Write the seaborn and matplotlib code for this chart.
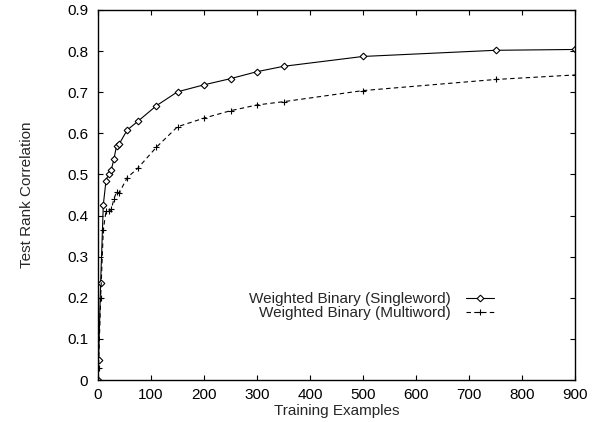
import numpy as np
import pandas as pd
import matplotlib
matplotlib.use("Agg")
import matplotlib.pyplot as plt
import seaborn as sns

# training set sizes and test rank correlation
single_x = [0, 1, 5, 10, 15, 20, 25, 30, 35, 40, 55, 75, 110, 150, 200, 250, 300, 350, 500, 750, 900]
single_y = [0.0, 0.048, 0.237, 0.426, 0.484, 0.502, 0.511, 0.537, 0.570, 0.574, 0.608, 0.629,
            0.667, 0.701, 0.718, 0.733, 0.750, 0.763, 0.787, 0.802, 0.804]

multi_x = [0, 1, 5, 10, 15, 20, 25, 30, 35, 40, 55, 75, 110, 150, 200, 250, 300, 350, 500, 750, 900]
multi_y = [0.0, 0.03, 0.20, 0.365, 0.41, 0.41, 0.415, 0.44, 0.458, 0.455, 0.492, 0.515,
           0.566, 0.616, 0.637, 0.655, 0.669, 0.677, 0.704, 0.731, 0.742]

x_ticks = [0, 100, 200, 300, 400, 500, 600, 700, 800, 900]
y_ticks = [0, 0.1, 0.2, 0.3, 0.4, 0.5, 0.6, 0.7, 0.8, 0.9]
y_ticklabels = ["0", "0.1", "0.2", "0.3", "0.4", "0.5", "0.6", "0.7", "0.8", "0.9"]

sns.set_style("ticks")
plt.rcParams["font.family"] = ["Liberation Sans", "DejaVu Sans"]
plt.rcParams["font.size"] = 11

fig = plt.figure(figsize=(5.99, 4.22), dpi=100)
ax = fig.add_axes([98 / 599, 42 / 422, 477 / 599, 370 / 422])

sns.lineplot(x=single_x, y=single_y, ax=ax, color="black", linewidth=0.8,
             marker="D", markersize=3.4, markerfacecolor="white", markeredgecolor="black",
             markeredgewidth=0.8, estimator=None, sort=False,
             label="Weighted Binary (Singleword)")
sns.lineplot(x=multi_x, y=multi_y, ax=ax, color="black", linewidth=0.8,
             linestyle=(0, (4, 3)), marker="+", markersize=5, markeredgewidth=0.8,
             markeredgecolor="black", estimator=None, sort=False,
             label="Weighted Binary (Multiword)")

ax.set_xlim(0, 900)
ax.set_ylim(0, 0.9)
ax.set_xticks(x_ticks)
ax.set_yticks(y_ticks)
ax.set_yticklabels(y_ticklabels)
ax.tick_params(direction="in", length=3.8, width=0.8, top=True, right=True, labelsize=11,
               colors="black", pad=6)
ax.tick_params(axis="y", pad=7)
for s in ax.spines.values():
    s.set_linewidth(1.0)
    s.set_color("black")

ax.set_xlabel("Training Examples", fontsize=11, labelpad=1)
ax.set_ylabel("Test Rank Correlation", fontsize=11, labelpad=24)

ax.legend(loc="center right", bbox_to_anchor=(0.86, 0.199), frameon=False,
          markerfirst=False, handlelength=1.85, handletextpad=1.0, labelspacing=0.0,
          fontsize=11)

fig.savefig("out.png", dpi=100)
